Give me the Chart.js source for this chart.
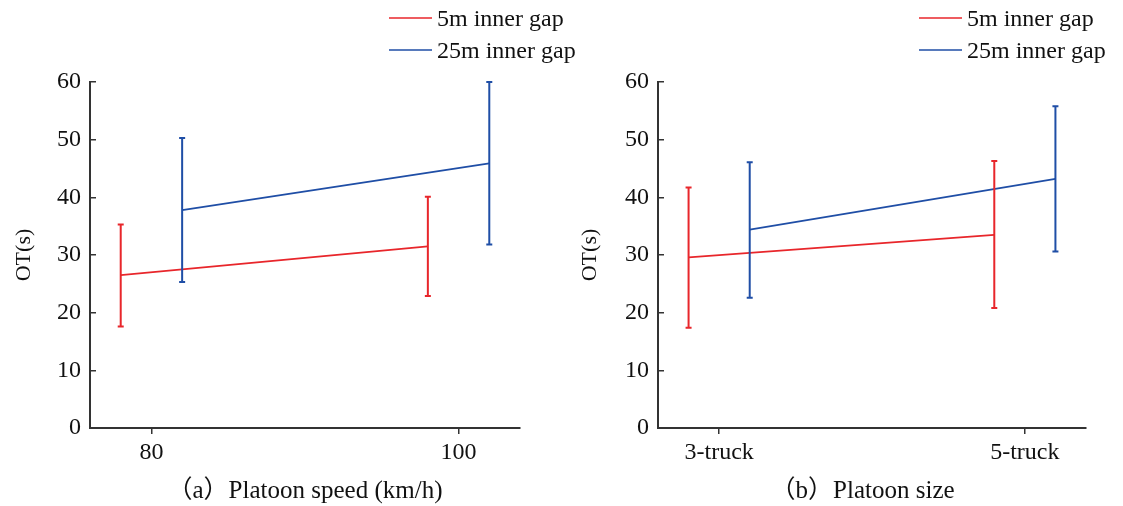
<!DOCTYPE html>
<html>
<head>
<meta charset="utf-8">
<script src="https://cdn.jsdelivr.net/npm/chart.js@4.4.1/dist/chart.umd.min.js"></script>
<style>
  body { margin: 0; background: #fff; }
  #wrap { position: relative; width: 1123px; height: 506px; overflow: hidden; }
  canvas { position: absolute; top: 0; }
</style>
</head>
<body>
<div id="wrap">
  <canvas id="chartA" width="620" height="506" style="left:0"></canvas>
  <canvas id="chartB" width="562" height="506" style="left:561px"></canvas>
</div>
<script>
// Series names
const seriesNames = ['5m inner gap', '25m inner gap'];

// (a) Platoon speed
const speedLabels = ['80', '100'];
const speedGap5 = [26.5, 31.5];
const speedGap5Low = [17.6, 22.9];
const speedGap5High = [35.3, 40.1];
const speedGap25 = [37.8, 45.9];
const speedGap25Low = [25.3, 31.8];
const speedGap25High = [50.3, 60.0];

// (b) Platoon size
const sizeLabels = ['3-truck', '5-truck'];
const sizeGap5 = [29.6, 33.5];
const sizeGap5Low = [17.4, 20.8];
const sizeGap5High = [41.7, 46.3];
const sizeGap25 = [34.4, 43.2];
const sizeGap25Low = [22.6, 30.6];
const sizeGap25High = [46.1, 55.8];

const yTickValues = [0, 10, 20, 30, 40, 50, 60];

const RED = '#e8262b';
const BLUE = '#1f4ea6';
const AXIS = '#333333';
const TEXT = '#111111';
const SERIF = "'Liberation Serif', 'Times New Roman', 'Noto Sans CJK SC', serif";

Chart.defaults.font.family = SERIF;
Chart.defaults.color = TEXT;

// draw vertical error bars with small caps
const errorBars = {
    id: 'errorBars',
    afterDatasetsDraw(chart) {
        const ctx = chart.ctx;
        const xs = chart.scales.x;
        const ys = chart.scales.y;
        ctx.save();
        chart.data.datasets.forEach(ds => {
            ctx.strokeStyle = ds.borderColor;
            ctx.lineWidth = 2;
            ds.data.forEach((pt, i) => {
                const px = xs.getPixelForValue(pt.x);
                const top = ys.getPixelForValue(ds.errorHigh[i]);
                const bot = ys.getPixelForValue(ds.errorLow[i]);
                ctx.beginPath();
                ctx.moveTo(px, top);
                ctx.lineTo(px, bot);
                ctx.moveTo(px - 3, top);
                ctx.lineTo(px + 3, top);
                ctx.moveTo(px - 3, bot);
                ctx.lineTo(px + 3, bot);
                ctx.stroke();
            });
        });
        ctx.restore();
    }
};

// legend stacked in two rows, line + label
const stackedLegend = {
    id: 'stackedLegend',
    afterDraw(chart, args, opts) {
        const ctx = chart.ctx;
        ctx.save();
        ctx.font = '24px ' + SERIF;
        ctx.textBaseline = 'middle';
        ctx.textAlign = 'left';
        chart.data.datasets.forEach((ds, i) => {
            const y = opts.y + i * opts.rowGap;
            ctx.strokeStyle = ds.borderColor;
            ctx.lineWidth = 1.5;
            ctx.beginPath();
            ctx.moveTo(opts.x, y);
            ctx.lineTo(opts.x + 43, y);
            ctx.stroke();
            ctx.fillStyle = TEXT;
            ctx.fillText(ds.label, opts.x + 48, y + 2);
        });
        ctx.restore();
    }
};

function toPoints(values, offset) {
    return values.map((v, i) => ({ x: i + offset, y: v }));
}

function makeChart(id, cfg) {
    const ctx = document.getElementById(id).getContext('2d');
    return new Chart(ctx, {
        type: 'line',
        data: {
            datasets: [{
                label: seriesNames[0],
                data: toPoints(cfg.red, -0.1),
                errorLow: cfg.redLow,
                errorHigh: cfg.redHigh,
                borderColor: RED,
                borderWidth: 1.8,
                pointRadius: 0,
                tension: 0
            }, {
                label: seriesNames[1],
                data: toPoints(cfg.blue, 0.1),
                errorLow: cfg.blueLow,
                errorHigh: cfg.blueHigh,
                borderColor: BLUE,
                borderWidth: 1.8,
                pointRadius: 0,
                tension: 0
            }]
        },
        options: {
            responsive: false,
            animation: false,
            layout: {
                padding: { left: 0, top: 82, right: cfg.padRight, bottom: 0 }
            },
            scales: {
                x: {
                    type: 'linear',
                    min: -0.2,
                    max: 1.2,
                    afterBuildTicks: scale => {
                        scale.ticks = cfg.labels.map((l, i) => ({ value: i }));
                    },
                    afterFit: scale => { scale.height = 78; },
                    ticks: {
                        callback: (value) => cfg.labels[value],
                        font: { size: 24 },
                        color: TEXT,
                        padding: 4,
                        maxRotation: 0
                    },
                    grid: {
                        drawOnChartArea: false,
                        tickLength: 6,
                        color: AXIS,
                        lineWidth: 1.5
                    },
                    border: { color: AXIS, width: 2 },
                    title: {
                        display: true,
                        text: cfg.caption,
                        font: { size: 25 },
                        color: TEXT,
                        padding: { top: 0, bottom: 0 }
                    }
                },
                y: {
                    min: 0,
                    max: 60,
                    afterBuildTicks: scale => {
                        scale.ticks = yTickValues.map(v => ({ value: v }));
                    },
                    afterFit: scale => { scale.width = cfg.yWidth; },
                    ticks: {
                        font: { size: 24 },
                        color: TEXT,
                        padding: 15
                    },
                    grid: {
                        drawOnChartArea: false,
                        tickLength: -6,
                        color: AXIS,
                        lineWidth: 1.5
                    },
                    border: { color: AXIS, width: 2 },
                    title: {
                        display: true,
                        text: 'OT(s)',
                        font: { size: 22 },
                        color: TEXT,
                        padding: { top: cfg.titlePad, bottom: 0 }
                    }
                }
            },
            plugins: {
                legend: { display: false },
                tooltip: { enabled: false },
                stackedLegend: { x: cfg.legendX, y: 18, rowGap: 32 }
            }
        },
        plugins: [errorBars, stackedLegend]
    });
}

makeChart('chartA', {
    labels: speedLabels,
    red: speedGap5, redLow: speedGap5Low, redHigh: speedGap5High,
    blue: speedGap25, blueLow: speedGap25Low, blueHigh: speedGap25High,
    caption: '（a）Platoon speed (km/h)',
    yWidth: 90, padRight: 100, titlePad: 11, legendX: 389
});

makeChart('chartB', {
    labels: sizeLabels,
    red: sizeGap5, redLow: sizeGap5Low, redHigh: sizeGap5High,
    blue: sizeGap25, blueLow: sizeGap25Low, blueHigh: sizeGap25High,
    caption: '（b）Platoon size   ',
    yWidth: 97, padRight: 37, titlePad: 16, legendX: 358
});
</script>
</body>
</html>
